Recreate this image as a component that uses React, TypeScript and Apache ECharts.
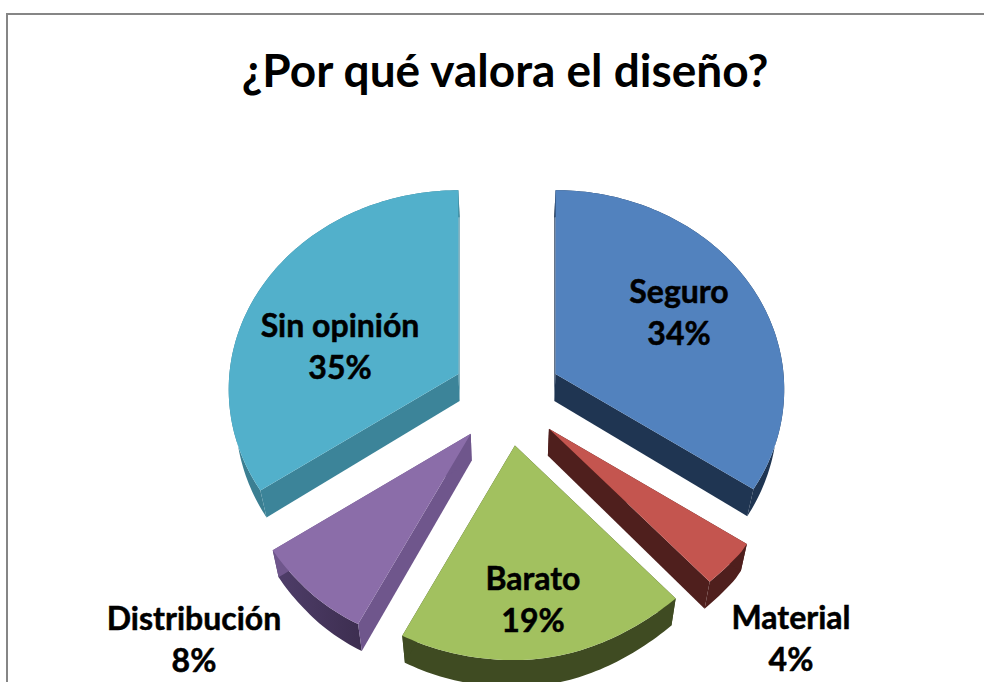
import React, { useEffect, useRef } from "react";
import * as echarts from "echarts";

const titleText = "¿Por qué valora el diseño?";
const categories = ["Seguro", "Material", "Barato", "Distribución", "Sin opinión"];
const shares = [34.4, 3.6, 19.4, 8.1, 34.5];

const topColors = ["#5282BE", "#C4554F", "#A2C15F", "#8B6DA9", "#52B0CB"];
const rimColors = ["#1F3552", "#4F1F1D", "#3F4B22", "#453459", "#3B7F92"];
const cutColors = ["#1F3552", "#4F1F1D", "#3F4B22", "#6F568C", "#3C8499"];
const labelCenters = [
  [679, 311],
  [791, 637],
  [533, 598],
  [194, 638],
  [340, 345],
];

const FONT = "Lato, Carlito, 'Open Sans', sans-serif";
const CX = 507;
const CY = 397;
const EXPLODE_X = 55;
const EXPLODE_Y = 49;
const DEPTH = 27;
const SHRINK = 0.975;
const PERSPECTIVE = 0.0775;

const total = shares.reduce((a, b) => a + b, 0);
const starts = shares.map((_, i) => shares.slice(0, i).reduce((a, b) => a + b, 0));

function toAngle(share: number) {
  return (share / total) * Math.PI * 2;
}

function rimOffset(t: number) {
  const u = Math.sin(t);
  const v = -Math.cos(t);
  const w = 1 - PERSPECTIVE * v;
  const rx = u < 0 ? 229 + 25 * Math.max(0, v - 0.7) : 228 - 50 * Math.max(0, v - 0.6);
  return [(rx * u) / w, (198 * v) / w];
}

function lower(p: number[]) {
  return [CX + (p[0] - CX) * SHRINK, p[1] + DEPTH];
}

function renderSlice(params: any, api: any) {
  const i = params.dataIndex;
  const share = api.value(0);
  const a0 = toAngle(starts[i]);
  const a1 = toAngle(starts[i] + share);
  const mid = (a0 + a1) / 2;
  const apex = [CX + EXPLODE_X * Math.sin(mid), CY - EXPLODE_Y * Math.cos(mid)];
  const steps = Math.max(6, Math.round((a1 - a0) / 0.02));
  const rim: number[][] = [];
  for (let s = 0; s <= steps; s++) {
    const o = rimOffset(a0 + ((a1 - a0) * s) / steps);
    rim.push([apex[0] + o[0], apex[1] + o[1]]);
  }
  const lowRim = rim.map(lower);
  const lowApex = lower(apex);
  const first = rim[0];
  const last = rim[rim.length - 1];
  const rimFill =
    categories[i] === "Distribución"
      ? new echarts.graphic.LinearGradient(0, 0, 1, 0, [
          { offset: 0, color: "#4F3E6A" },
          { offset: 1, color: "#3D2E50" },
        ])
      : rimColors[i];
  return {
    type: "group",
    children: [
      { type: "polygon", shape: { points: rim.concat(lowRim.slice().reverse()) }, style: { fill: rimFill } },
      { type: "polygon", shape: { points: [apex, first, lower(first), lowApex] }, style: { fill: cutColors[i] } },
      { type: "polygon", shape: { points: [apex, last, lower(last), lowApex] }, style: { fill: cutColors[i] } },
      { type: "polygon", shape: { points: [apex, ...rim] }, style: { fill: topColors[i] } },
      {
        type: "text",
        x: labelCenters[i][0],
        y: labelCenters[i][1],
        style: {
          text: `${categories[i]}\n${Math.round(share)}%`,
          fontFamily: FONT,
          fontWeight: "bold",
          fontSize: 32,
          lineHeight: 42,
          fill: "#000",
          stroke: "#000",
          lineWidth: 0.5,
          align: "center",
          verticalAlign: "middle",
        },
      },
    ],
  };
}

export default function App() {
  const ref = useRef<HTMLDivElement>(null);
  useEffect(() => {
    const chart = echarts.init(ref.current!, null, { renderer: "svg" });
    chart.setOption({
      animation: false,
      backgroundColor: "#fff",
      title: {
        text: titleText,
        left: 500,
        top: 41,
        textAlign: "center",
        textStyle: { fontFamily: FONT, fontWeight: "bold", fontSize: 46, color: "#000" },
      },
      graphic: [
        {
          type: "polyline",
          shape: { points: [[7, 682], [7, 14], [984, 14]] },
          style: { stroke: "#868686", lineWidth: 2, fill: "none" },
        },
      ],
      series: [
        {
          type: "custom",
          coordinateSystem: "none",
          renderItem: renderSlice,
          data: shares.map((v, i) => ({ name: categories[i], value: [v] })),
        },
      ],
    });
    return () => chart.dispose();
  }, []);
  return <div ref={ref} style={{ position: "absolute", left: 0, top: 0, width: 984, height: 682 }} />;
}
